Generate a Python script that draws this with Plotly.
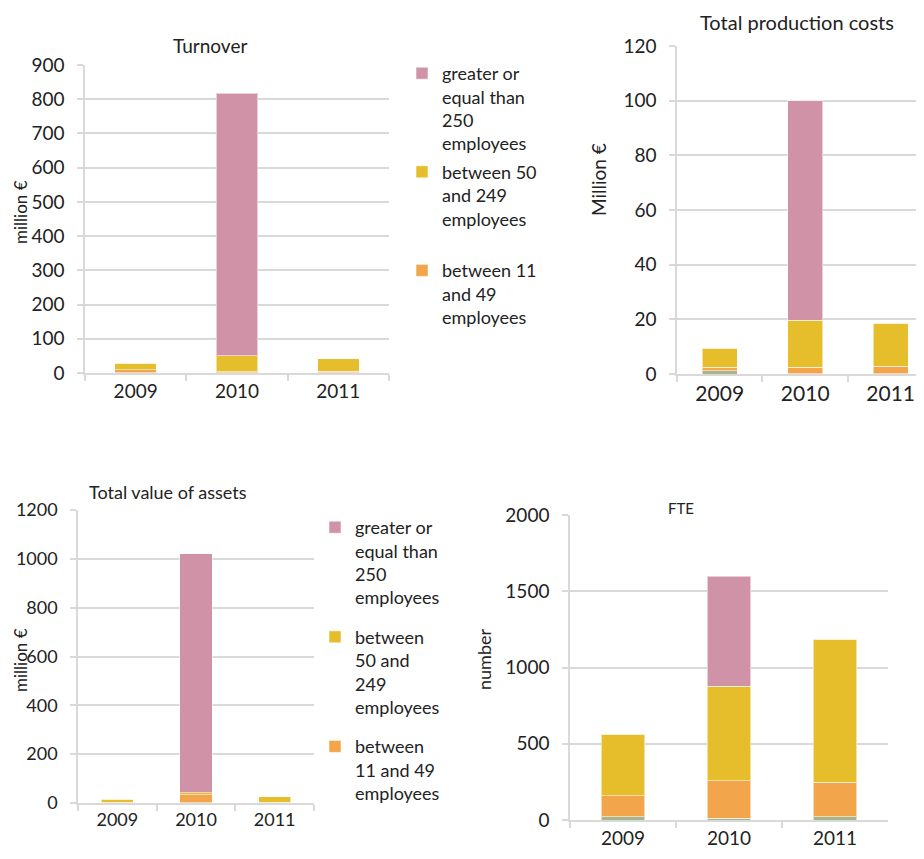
import plotly.graph_objects as go

years = ["2009", "2010", "2011"]
series_names = ["less than 10 employees", "between 11<br>and 49<br>employees",
                "between 50<br>and 249<br>employees<br> ", "greater or<br>equal than<br>250<br>employees"]
series_names_b = ["less than 10 employees", "between<br>11 and 49<br>employees",
                  "between<br>50 and<br>249<br>employees", "greater or<br>equal than<br>250<br>employees"]
colors = ["#A4B592", "#F2A54A", "#E6BD2A", "#D092A7"]

# values: green (<10), orange (11-49), yellow (50-249), pink (>=250)
turnover_small = [1, 1, 1]
turnover_11_49 = [8, 3, 4]
turnover_50_249 = [20, 46, 37]
turnover_250 = [0, 768, 0]

prod_small = [1.1, 0.1, 0.1]
prod_11_49 = [1.3, 2.3, 2.65]
prod_50_249 = [7.1, 17.2, 15.85]
prod_250 = [0, 80.4, 0]

assets_small = [1, 1, 1]
assets_11_49 = [2, 32, 2]
assets_50_249 = [13, 9, 23]
assets_250 = [0, 978, 0]

fte_small = [22, 13, 22]
fte_11_49 = [138, 243, 227]
fte_50_249 = [402, 621, 936]
fte_250 = [0, 721, 0]

W, H, OFF = 924, 859, 8  # page body margin offset compensation


def px(x):
    return (x - OFF) / W


def py(y):
    return 1 - (y - OFF) / H


panels = [
    ([turnover_small, turnover_11_49, turnover_50_249, turnover_250], "x", "y", "legend", series_names),
    ([prod_small, prod_11_49, prod_50_249, prod_250], "x2", "y2", None, series_names),
    ([assets_small, assets_11_49, assets_50_249, assets_250], "x3", "y3", "legend2", series_names_b),
    ([fte_small, fte_11_49, fte_50_249, fte_250], "x4", "y4", None, series_names),
]

fig = go.Figure()
for vals, xa, ya, leg, names in panels:
    for i, v in enumerate(vals):
        show = leg is not None and i > 0
        fig.add_trace(go.Bar(
            x=years, y=v, xaxis=xa, yaxis=ya, name=names[i],
            marker=dict(color=colors[i], line=dict(color="rgba(255,255,255,0.55)", width=1)),
            showlegend=show, legend=leg if leg else "legend", legendgroup=f"{xa}_{i}",
            legendrank=10 - i, width=0.41, hoverinfo="skip"))

FONT = "Lato, Open Sans, sans-serif"
grid = "#D9D9D9"


def xax(domain, rng, size, anchor):
    return dict(domain=domain, range=rng, type="category", showline=True, linecolor=grid, linewidth=1.5,
                ticks="outside", tickson="boundaries", ticklen=6, tickcolor=grid, tickwidth=1.5,
                tickfont=dict(size=size, color="#222"), showgrid=False, fixedrange=True,
                anchor=anchor, automargin=False)


def yax(domain, rng, dtick, size, anchor):
    return dict(domain=domain, range=rng, dtick=dtick, showline=True, linecolor=grid, linewidth=1.5,
                showgrid=True, gridcolor=grid, gridwidth=1.5, zeroline=False,
                ticks="outside", ticklen=6, tickcolor=grid, tickwidth=1.5,
                tickfont=dict(size=size, color="#222"), anchor=anchor, ticklabelstandoff=9,
                automargin=False, fixedrange=True)


fig.update_layout(
    width=W, height=H, autosize=False,
    margin=dict(l=0, r=0, t=0, b=0, pad=0, autoexpand=False),
    paper_bgcolor="white", plot_bgcolor="white", barmode="stack",
    font=dict(family=FONT, color="#222"),
    xaxis=xax([px(85), px(389)], [-0.5, 2.5], 19, "y"),
    yaxis=yax([py(373), py(65)], [0, 900], 100, 19, "x"),
    xaxis2=xax([px(677), px(924)], [-0.5, 2.39], 21, "y2"),
    yaxis2=yax([py(374), py(46)], [0, 120], 20, 19, "x2"),
    xaxis3=xax([px(78), px(314)], [-0.5, 2.5], 18, "y3"),
    yaxis3=yax([py(803), py(510)], [0, 1200], 200, 18, "x3"),
    xaxis4=xax([px(570), px(888)], [-0.5, 2.5], 19, "y4"),
    yaxis4=yax([py(820), py(515)], [0, 2000], 500, 19, "x4"),
    legend=dict(x=px(402), y=py(55), xanchor="left", yanchor="top", traceorder="grouped",
                valign="top", tracegroupgap=2, font=dict(size=18, family=FONT, color="#222"),
                bgcolor="rgba(0,0,0,0)", itemclick=False, itemdoubleclick=False),
    legend2=dict(x=px(315), y=py(509), xanchor="left", yanchor="top", traceorder="grouped",
                 valign="top", tracegroupgap=13, font=dict(size=18, family=FONT, color="#222"),
                 bgcolor="rgba(0,0,0,0)", itemclick=False, itemdoubleclick=False),
)

annots = [
    dict(text="Turnover", x=210, y=45, xanchor="center", size=19),
    dict(text="Total production costs", x=797, y=22, xanchor="center", size=20),
    dict(text="Total value of assets", x=87, y=492, xanchor="left", size=18),
    dict(text="FTE", x=681, y=508, xanchor="center", size=15),
]
for a in annots:
    fig.add_annotation(text=a["text"], x=px(a["x"]), y=py(a["y"]), xref="paper", yref="paper",
                       xanchor=a["xanchor"], yanchor="middle", showarrow=False,
                       font=dict(size=a["size"], family=FONT, color="#222"))

ytitles = [
    ("million €", 20, 212, 17),
    ("Million €", 598, 180, 19),
    ("million €", 20, 660, 17),
    ("number", 484, 660, 18),
]
for t, x0, y0, s in ytitles:
    fig.add_annotation(text=t, x=px(x0), y=py(y0), xref="paper", yref="paper", textangle=-90,
                       xanchor="center", yanchor="middle", showarrow=False,
                       font=dict(size=s, family=FONT, color="#222"))

fig.write_html("out.html")
